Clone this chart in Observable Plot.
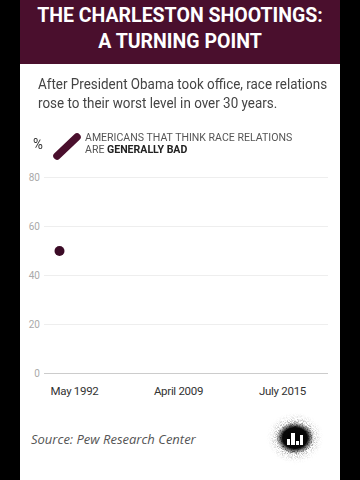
<!DOCTYPE html>
<html><head><meta charset="utf-8">
<script src="https://cdn.jsdelivr.net/npm/d3@7"></script>
<script src="https://cdn.jsdelivr.net/npm/@observablehq/plot@0.6"></script>
<style>
html,body{margin:0;padding:0;background:#000;width:360px;height:480px;overflow:hidden;}
#panel{position:absolute;left:20px;top:0;width:320px;height:480px;background:#fff;}
#header{position:absolute;left:0;top:0;width:320px;height:64px;background:#4a0f2d;color:#fff;
  font-family:"Roboto",sans-serif;font-weight:bold;font-size:19.5px;
  text-align:center;line-height:26px;padding-top:3px;box-sizing:border-box;}
#subtitle{position:absolute;left:18px;top:75px;width:360px;color:#444;white-space:nowrap;
  font-family:"Roboto",sans-serif;font-size:15px;line-height:19px;transform:scaleX(0.895);transform-origin:0 0;}
#pct{position:absolute;left:13px;top:135px;font-family:"Roboto",sans-serif;font-size:15px;color:#333;transform:scaleX(0.9);transform-origin:0 0;}
#pill{position:absolute;left:29px;top:129px;}
#legtext{position:absolute;left:65px;top:132px;white-space:nowrap;font-family:"Roboto",sans-serif;font-size:11px;line-height:12px;color:#555;transform:scaleX(0.96);transform-origin:0 0;}
#legtext b{color:#222;}
#chart{position:absolute;left:0;top:165px;}
#chart text{letter-spacing:-0.3px;}
#source{position:absolute;left:11px;top:430px;font-family:"Open Sans",sans-serif;font-style:italic;font-size:13px;color:#555;}
#logo{position:absolute;left:240px;top:405px;}
</style></head>
<body>
<div id="panel">
  <div id="header">THE CHARLESTON SHOOTINGS:<br>A TURNING POINT</div>
  <div id="subtitle">After President Obama took office, race relations<br>rose to their worst level in over 30 years.</div>
  <div id="pct">%</div>
  <svg id="pill" width="36" height="36"><line x1="8" y1="27" x2="28" y2="8" stroke="#4a0f2d" stroke-width="7.5" stroke-linecap="round"/></svg>
  <div id="legtext">AMERICANS THAT THINK RACE RELATIONS<br>ARE <b>GENERALLY BAD</b></div>
  <div id="chart"></div>
  <div id="source">Source: Pew Research Center</div>
  <svg id="logo" width="70" height="66">
    <defs>
      <radialGradient id="g" cx="50%" cy="50%" r="50%">
        <stop offset="0%" stop-color="#000"/>
        <stop offset="45%" stop-color="#222"/>
        <stop offset="75%" stop-color="#999" stop-opacity="0.45"/>
        <stop offset="100%" stop-color="#fff" stop-opacity="0"/>
      </radialGradient>
      <radialGradient id="c" cx="50%" cy="50%" r="50%">
        <stop offset="0%" stop-color="#000"/>
        <stop offset="65%" stop-color="#080808"/>
        <stop offset="100%" stop-color="#333" stop-opacity="0"/>
      </radialGradient>
      <filter id="n"><feTurbulence type="fractalNoise" baseFrequency="1.2" numOctaves="2" result="t"/>
        <feColorMatrix in="t" type="matrix" values="0 0 0 0 0  0 0 0 0 0  0 0 0 0 0  0 0 0 -2.6 1.5" result="m"/>
        <feComposite in="SourceGraphic" in2="m" operator="in"/></filter>
    </defs>
    <ellipse cx="35" cy="33" rx="30" ry="27" fill="url(#g)" filter="url(#n)"/>
    <ellipse cx="35" cy="33" rx="19" ry="16" fill="url(#c)"/>
    <rect x="27" y="34" width="3" height="6" fill="#fff"/>
    <rect x="31" y="28" width="4" height="12" fill="#fff"/>
    <rect x="36" y="36" width="3" height="4" fill="#fff"/>
    <rect x="40" y="30" width="3" height="10" fill="#fff"/>
  </svg>
</div>
<script>
const tickLabels = ["May 1992", "April 2009", "July 2015"];
const dates = ["May 1992"];
const values = [50];
const yTicks = [0, 20, 40, 60, 80];

const data = dates.map((d, i) => ({date: d, value: values[i]}));

const chart = Plot.plot({
  width: 320, height: 240,
  marginLeft: 24, marginRight: 12, marginTop: 12, marginBottom: 32,
  style: {fontFamily: "Roboto, sans-serif", background: "transparent"},
  x: {type: "point", domain: tickLabels, padding: 0, insetLeft: 29.5, insetRight: 46.5, label: null},
  y: {domain: [0, 80], label: null},
  marks: [
    Plot.ruleY(yTicks.filter(d => d > 0), {stroke: "#eee"}),
    Plot.ruleY([0], {stroke: "#ccc"}),
    Plot.axisY(yTicks, {tickSize: 0, tickPadding: 5, fill: "#aaa", fontSize: 10, label: null}),
    Plot.axisX({tickSize: 0, tickPadding: 13, fill: "#333", fontSize: 11.5, label: null}),
    Plot.dot(data, {x: "date", y: "value", r: 5, fill: "#3b0b26", dx: -15})
  ]
});
document.getElementById("chart").appendChild(chart);
</script>
</body></html>
